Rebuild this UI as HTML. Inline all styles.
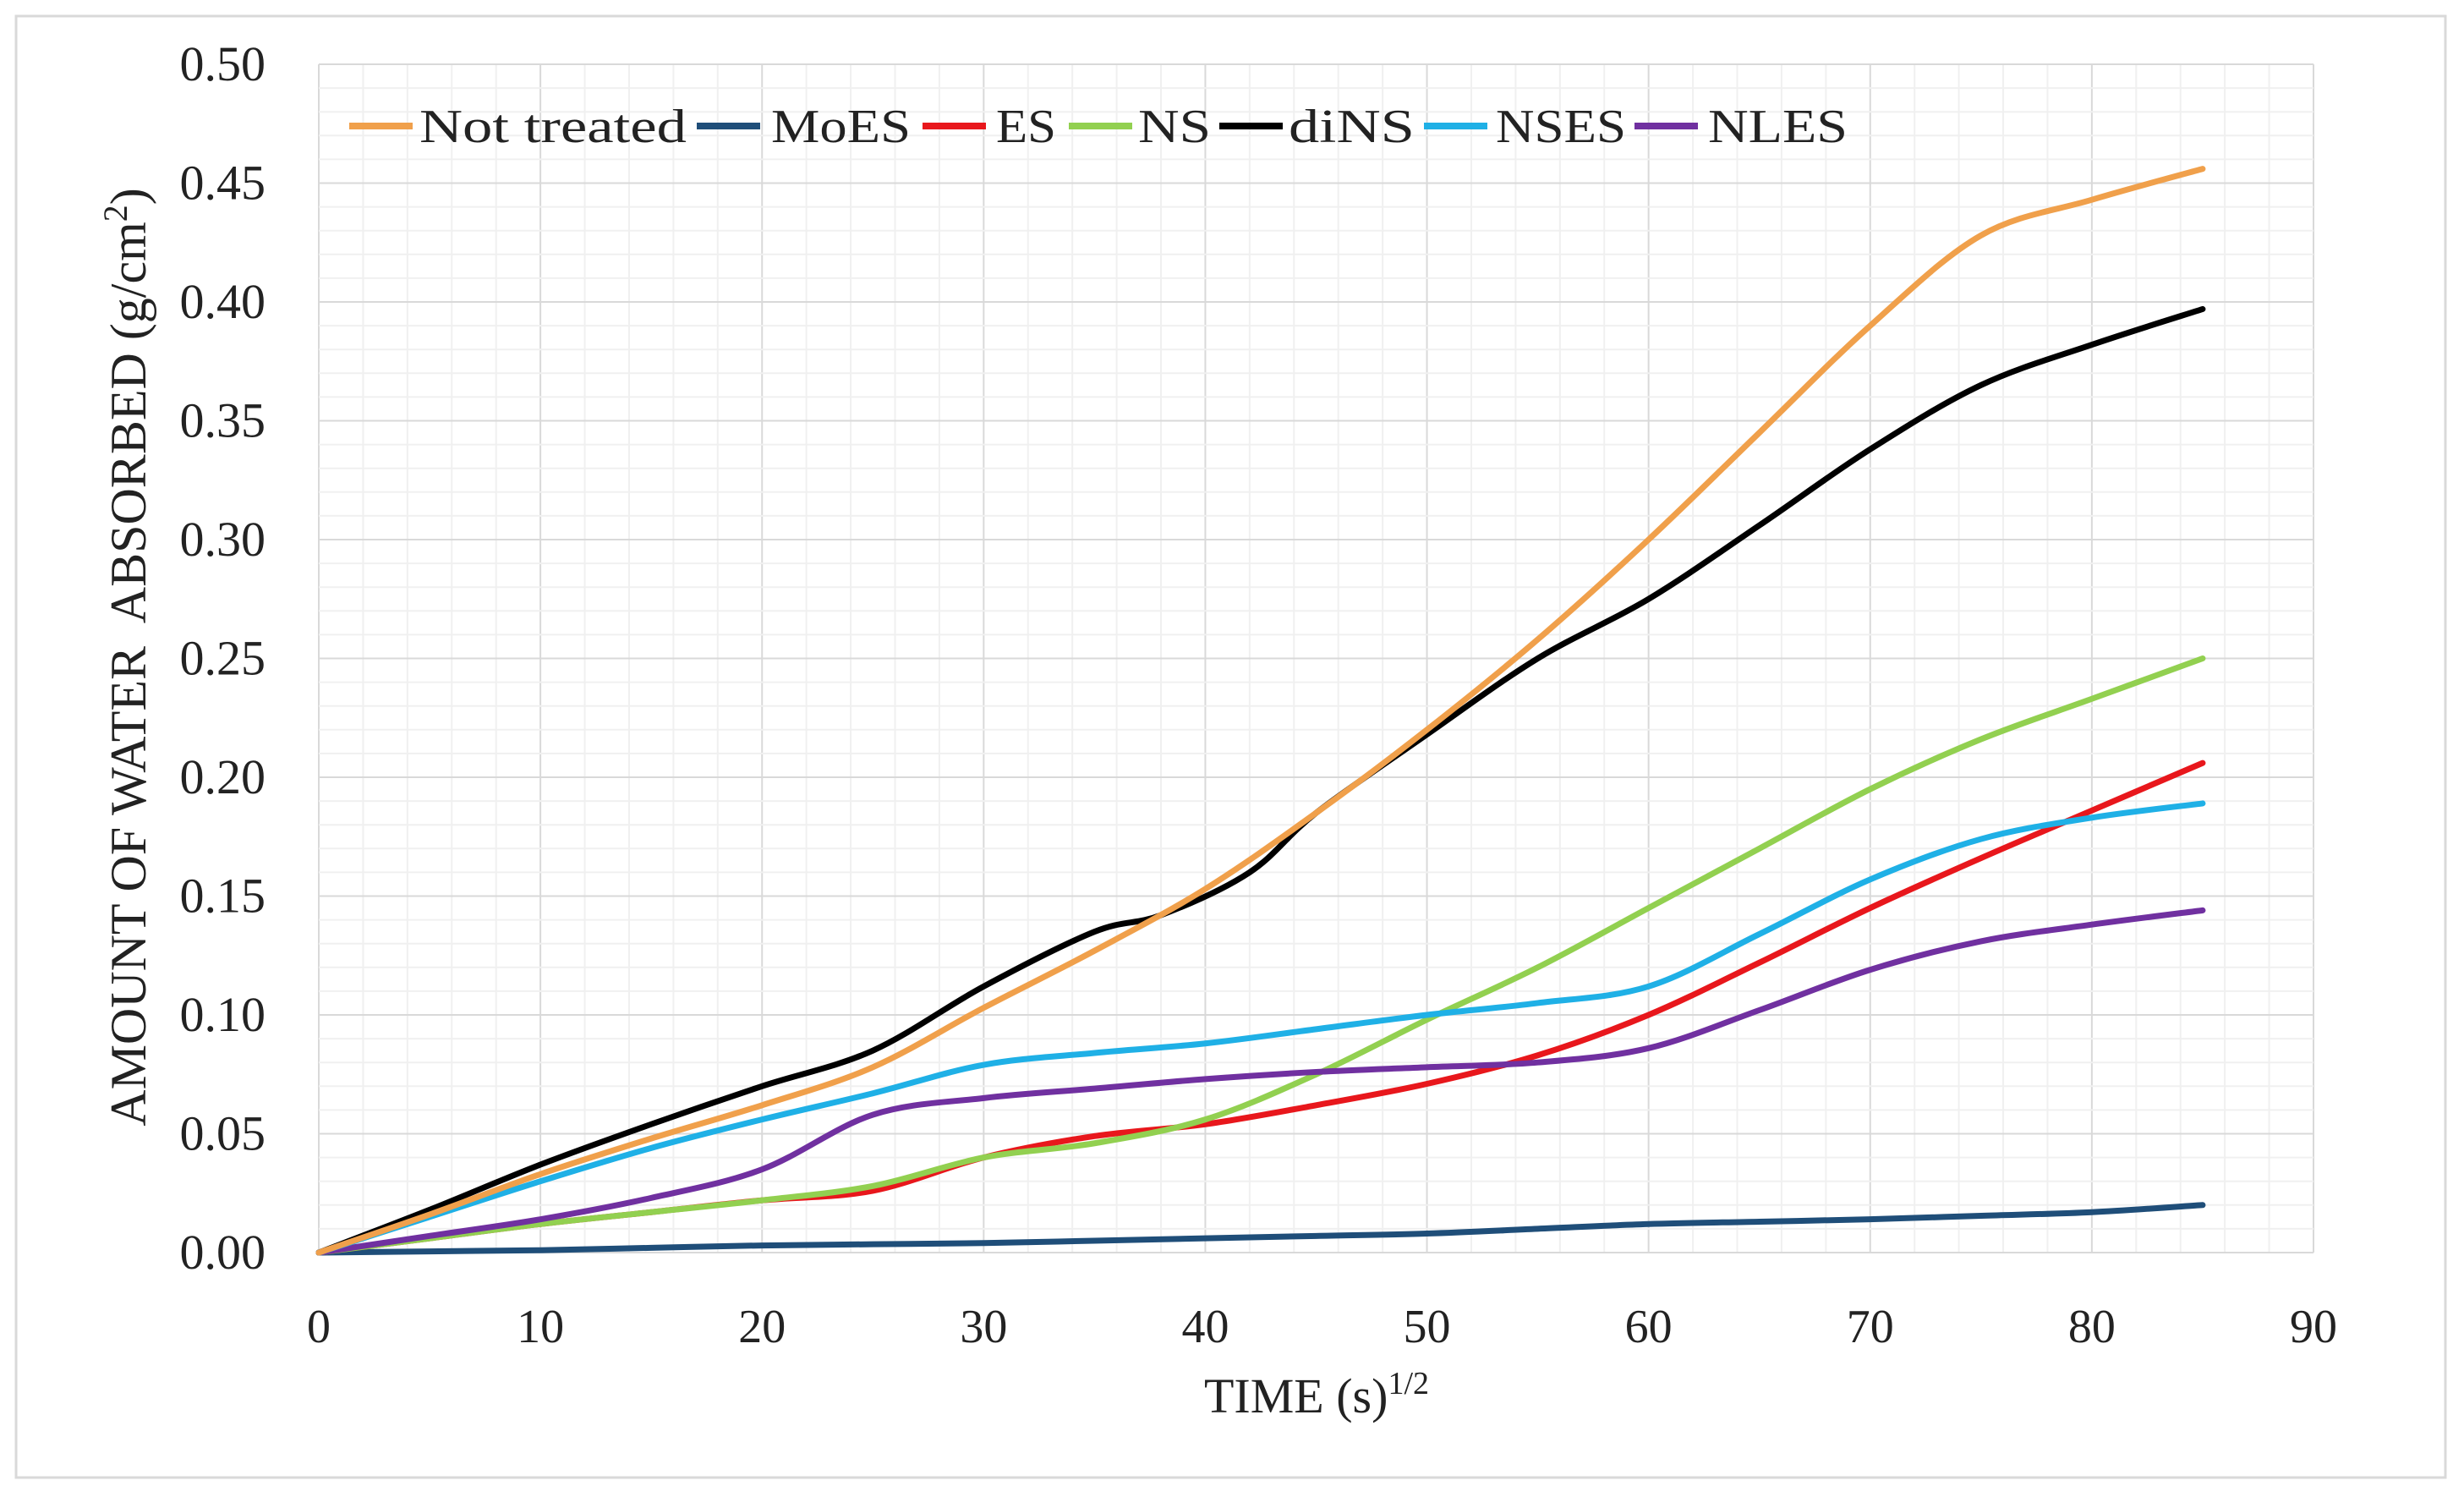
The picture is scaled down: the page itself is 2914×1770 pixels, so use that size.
<!DOCTYPE html>
<html><head><meta charset="utf-8"><style>
html,body{margin:0;padding:0;background:#fff}
svg{display:block}
text{font-family:"Liberation Serif",serif;fill:#222}
</style></head><body>
<svg id="chart" width="2914" height="1770" viewBox="0 0 2914 1770">
<rect x="19" y="19" width="2873" height="1728" fill="#fff" stroke="#d9d9d9" stroke-width="3"/>
<g id="grid"></g>
<g id="axes"></g>
<g id="series"></g>
<g id="legend"></g>
<text x="1557" y="1670" font-size="58" text-anchor="middle">TIME (s)<tspan font-size="38" dy="-22">1/2</tspan></text>
<text transform="translate(172,777) rotate(-90)" font-size="60" text-anchor="middle">AMOUNT OF WATER&#160; ABSORBED (g/cm<tspan font-size="40" dy="-22">2</tspan><tspan dy="22">)</tspan></text>
</svg>
<script>
const xTicks=[0,10,20,30,40,50,60,70,80,90];
const yTicks=[0,0.05,0.10,0.15,0.20,0.25,0.30,0.35,0.40,0.45,0.50];
const yTickLabels=["0.00","0.05","0.10","0.15","0.20","0.25","0.30","0.35","0.40","0.45","0.50"];
const seriesNames=["Not treated","MoES","ES","NS","diNS","NSES","NLES"];
const xStd=[0,5,10,15,20,25,30,35,40,45,50,55,60,65,70,75,80,85];
const notTreated=[0,0.016,0.033,0.048,0.062,0.078,0.103,0.127,0.153,0.185,0.220,0.258,0.300,0.345,0.390,0.428,0.443,0.456];
const moES=[0,0.0005,0.001,0.002,0.003,0.0035,0.004,0.005,0.006,0.007,0.008,0.010,0.012,0.013,0.014,0.0155,0.017,0.020];
const es=[0,0.006,0.012,0.017,0.022,0.026,0.040,0.049,0.054,0.062,0.071,0.083,0.100,0.122,0.145,0.166,0.186,0.206];
const ns=[0,0.006,0.012,0.017,0.022,0.028,0.040,0.046,0.056,0.075,0.098,0.120,0.145,0.170,0.195,0.216,0.233,0.250];
const xDiNS=[0,5,10,15,20,25,30,35,38,42,45,50,55,60,65,70,75,80,85];
const diNS=[0,0.018,0.037,0.054,0.070,0.085,0.112,0.135,0.142,0.160,0.185,0.218,0.250,0.275,0.306,0.338,0.365,0.382,0.397];
const nses=[0,0.015,0.030,0.044,0.056,0.067,0.079,0.084,0.088,0.094,0.100,0.105,0.112,0.134,0.157,0.174,0.183,0.189];
const nles=[0,0.007,0.014,0.023,0.035,0.058,0.065,0.069,0.073,0.076,0.078,0.080,0.086,0.102,0.119,0.131,0.138,0.144];

const X0=377,X1=2736,Y0=1481,Y1=76;
const xs=v=>X0+(v/90)*(X1-X0);
const ys=v=>Y0-(v/0.5)*(Y0-Y1);
const NS="http://www.w3.org/2000/svg";
function mk(tag,attrs,parent){const e=document.createElementNS(NS,tag);for(const k in attrs)e.setAttribute(k,attrs[k]);parent.appendChild(e);return e;}
const grid=document.getElementById('grid'),axes=document.getElementById('axes'),ser=document.getElementById('series'),leg=document.getElementById('legend');
for(let i=0;i<=45;i++){const v=i*2;const gl=mk('line',{x1:xs(v),x2:xs(v),y1:Y1,y2:Y0,stroke:i%5?'#f0f0f0':'#d9d9d9','stroke-width':2},grid);

}
for(let i=0;i<=50;i++){const v=i*0.01;const gl=mk('line',{x1:X0,x2:X1,y1:ys(v),y2:ys(v),stroke:i%5?'#f0f0f0':'#d9d9d9','stroke-width':2},grid);

}
xTicks.forEach(v=>{const t=mk('text',{x:xs(v),y:1587,'font-size':56,'text-anchor':'middle'},axes);t.textContent=String(v);

});
yTicks.forEach((v,i)=>{const t=mk('text',{x:314,y:ys(v)+19,'font-size':58,'text-anchor':'end'},axes);t.textContent=yTickLabels[i];

});
const colors=['#f0a04b','#1f4e79','#e8171c','#92d050','#000000','#1fb0e6','#7030a0'];
const data=[[xStd,notTreated],[xStd,moES],[xStd,es],[xStd,ns],[xDiNS,diNS],[xStd,nses],[xStd,nles]];
function smooth(px,py){let d=`M${px[0]},${py[0]}`;for(let i=0;i<px.length-1;i++){const p0=i?i-1:i,p3=i+2<px.length?i+2:i+1;
const c1x=px[i]+(px[i+1]-px[p0])/6,c1y=py[i]+(py[i+1]-py[p0])/6,c2x=px[i+1]-(px[p3]-px[i])/6,c2y=py[i+1]-(py[p3]-py[i])/6;
d+=`C${c1x},${c1y} ${c2x},${c2y} ${px[i+1]},${py[i+1]}`;}return d;}
const order=[1,2,3,6,5,4,0];
order.forEach(k=>{const [xa,ya]=data[k];const p=mk('path',{d:smooth(xa.map(xs),ya.map(ys)),fill:'none',stroke:colors[k],'stroke-width':7,'stroke-linecap':'round'},ser);

});
const legX=[413,824,1091,1264,1442,1684,1933];
const legTX=[496,912,1178,1346,1524,1769,2020];
const legTW=[316,165,71,86,149,154,165];
seriesNames.forEach((n,k)=>{const l=mk('line',{x1:legX[k],x2:legX[k]+75,y1:149,y2:149,stroke:colors[k],'stroke-width':8},leg);


const t=mk('text',{x:legTX[k],y:168,'font-size':56,textLength:legTW[k],lengthAdjust:'spacingAndGlyphs'},leg);t.textContent=n;

});
</script>
</body></html>
